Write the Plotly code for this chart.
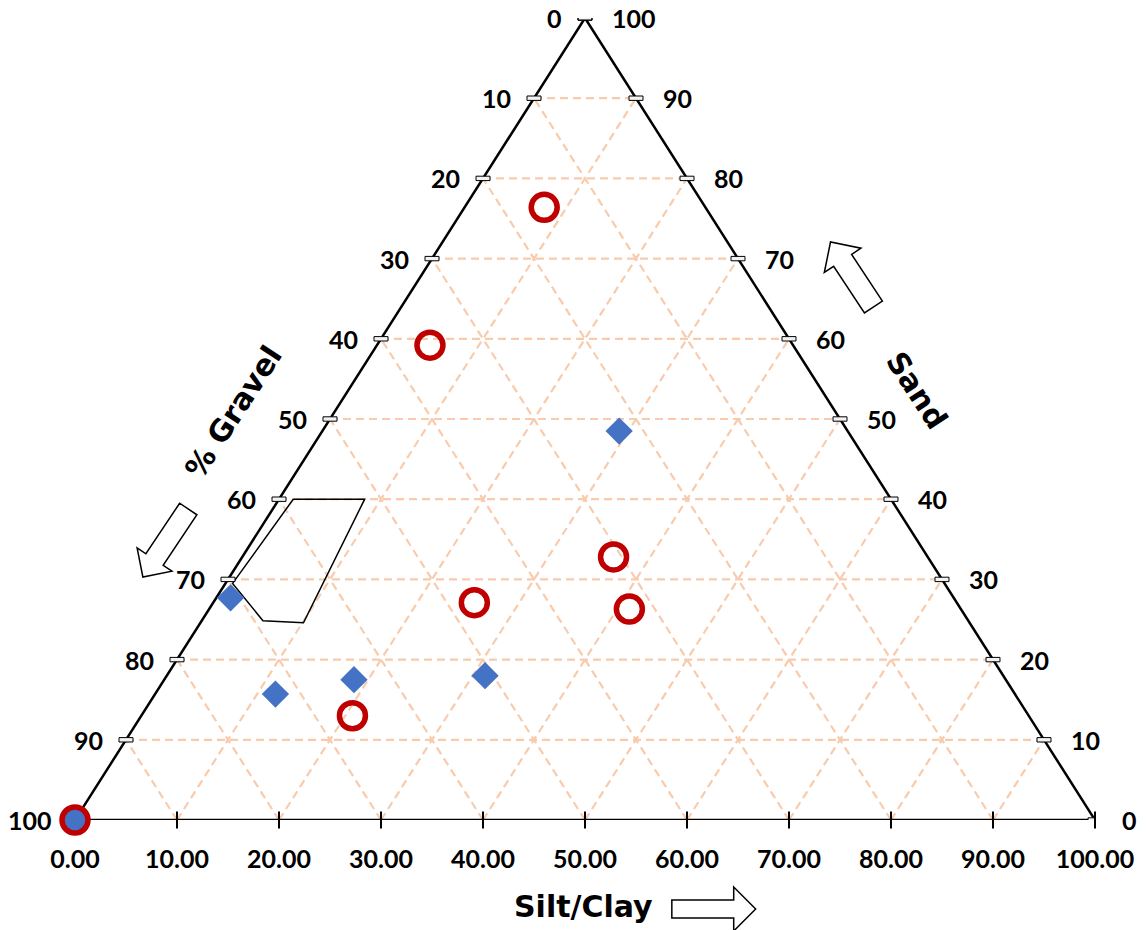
import math
import plotly.graph_objects as go

# ---------------- data (percentages) ----------------
red_sand = [76.4, 59.2, 32.8, 27.1, 26.3, 13.0]
red_siltclay = [7.8, 5.2, 36.4, 25.6, 41.2, 20.7]

blue_sand = [48.5, 27.7, 15.7, 17.5, 18.0]
blue_siltclay = [29.1, 1.4, 11.8, 18.6, 31.2]

both_sand = [0.0]          # sample shared by both series (100 % gravel)
both_siltclay = [0.0]

zone_sand = [40.0, 40.0, 24.6, 24.85, 29.5]
zone_siltclay = [1.4, 8.4, 10.1, 6.0, 0.7]

grid_levels = [10, 20, 30, 40, 50, 60, 70, 80, 90]
edge_levels = [0, 10, 20, 30, 40, 50, 60, 70, 80, 90, 100]
bottom_ticks = [0, 10, 20, 30, 40, 50, 60, 70, 80, 90, 100]

# ---------------- helpers ----------------
def tx(sand, silt):
    return silt + sand / 2.0

# pixel geometry of the plotting area (for decorations only)
PX0, PX1, PY0, PY1 = 75, 1097, 820, 18
W, H = 1146, 930
SX = (PX1 - PX0) / 100.0
SY = (PY0 - PY1) / 100.0

def p2paper(px, py):
    return ((px - PX0) / (PX1 - PX0), (PY0 - py) / (PY0 - PY1))

def block_arrow(tail, tip, shw, hhw, hl):
    dx, dy = tip[0] - tail[0], tip[1] - tail[1]
    L = math.hypot(dx, dy)
    ux, uy = dx / L, dy / L
    nx, ny = -uy, ux
    bx, by = tip[0] - ux * hl, tip[1] - uy * hl
    pts = [
        (tail[0] + nx * shw, tail[1] + ny * shw),
        (bx + nx * shw, by + ny * shw),
        (bx + nx * hhw, by + ny * hhw),
        tip,
        (bx - nx * hhw, by - ny * hhw),
        (bx - nx * shw, by - ny * shw),
        (tail[0] - nx * shw, tail[1] - ny * shw),
    ]
    d = [p2paper(*p) for p in pts]
    return "M " + " L ".join(f"{x:.5f},{y:.5f}" for x, y in d) + " Z"

GRID = "#F8CBAD"
fig = go.Figure()

# ---------------- grid lines ----------------
gx, gy = [], []
for k in grid_levels:
    gx += [tx(k, 0), tx(k, 100 - k), None]; gy += [k, k, None]
    gx += [tx(0, k), tx(100 - k, k), None]; gy += [0, 100 - k, None]
    gx += [tx(0, 100 - k), tx(100 - k, 0), None]; gy += [0, 100 - k, None]
fig.add_trace(go.Scatter(x=gx, y=gy, mode="lines",
                         line=dict(color=GRID, width=2.2, dash="8px,5px"),
                         hoverinfo="skip", showlegend=False))

# ---------------- triangle ----------------
fig.add_trace(go.Scatter(x=[tx(0, 0), tx(0, 100), tx(100, 0), tx(0, 0)],
                         y=[0, 0, 100, 0], mode="lines",
                         line=dict(color="black", width=2.5),
                         hoverinfo="skip", showlegend=False, cliponaxis=False))

# ---------------- zone polygon ----------------
zx = [tx(s, c) for s, c in zip(zone_sand, zone_siltclay)]
zy = list(zone_sand)
fig.add_trace(go.Scatter(x=zx + [zx[0]], y=zy + [zy[0]], mode="lines",
                         line=dict(color="black", width=1.5),
                         hoverinfo="skip", showlegend=False))

# ---------------- edge tick rectangles ----------------
hw, hh = 7 / SX, 2.2 / SY
rx, ry = [], []
for g in edge_levels:
    cx, cy = tx(100 - g, 0), 100 - g
    rx += [cx - hw, cx + hw, cx + hw, cx - hw, cx - hw, None]
    ry += [cy - hh, cy - hh, cy + hh, cy + hh, cy - hh, None]
for s in edge_levels:
    cx, cy = tx(s, 100 - s), s
    rx += [cx - hw, cx + hw, cx + hw, cx - hw, cx - hw, None]
    ry += [cy - hh, cy - hh, cy + hh, cy + hh, cy - hh, None]
fig.add_trace(go.Scatter(x=rx, y=ry, mode="lines", fill="toself",
                         fillcolor="#F2F2F2", line=dict(color="black", width=1),
                         hoverinfo="skip", showlegend=False, cliponaxis=False))

# bottom tick marks
fig.add_trace(go.Scatter(x=bottom_ticks, y=[0] * len(bottom_ticks), mode="markers",
                         marker=dict(symbol="line-ns", size=12,
                                     line=dict(color="black", width=2)),
                         hoverinfo="skip", showlegend=False, cliponaxis=False))

# ---------------- samples ----------------
fig.add_trace(go.Scatter(x=[tx(s, c) for s, c in zip(blue_sand, blue_siltclay)],
                         y=blue_sand, mode="markers", name="Blue",
                         marker=dict(symbol="diamond", size=21, color="#4472C4",
                                     line=dict(width=0)),
                         showlegend=False, cliponaxis=False))
fig.add_trace(go.Scatter(x=[tx(s, c) for s, c in zip(red_sand, red_siltclay)],
                         y=red_sand, mode="markers", name="Red",
                         marker=dict(symbol="circle-open", size=26, color="#C00000",
                                     line=dict(width=5.5, color="#C00000")),
                         showlegend=False, cliponaxis=False))
fig.add_trace(go.Scatter(x=[tx(s, c) for s, c in zip(both_sand, both_siltclay)],
                         y=both_sand, mode="markers", name="Both",
                         marker=dict(symbol="circle", size=26, color="#4472C4",
                                     line=dict(width=5.5, color="#C00000")),
                         showlegend=False, cliponaxis=False))

# ---------------- edge labels ----------------
LBL = dict(family="Lato", size=25, color="black", weight="bold")
ann = []
for g in edge_levels:
    ann.append(dict(x=tx(100 - g, 0), y=100 - g, text=str(g), showarrow=False,
                    xanchor="right", yanchor="middle", xshift=-21, font=LBL))
for s in edge_levels:
    ann.append(dict(x=tx(s, 100 - s), y=s, text=str(s), showarrow=False,
                    xanchor="left", yanchor="middle", xshift=25, font=LBL))

TT = dict(family="DejaVu Sans", size=30, color="black", weight="bold")
for text, (cx, cy), ang in [("Silt/Clay", (584, 906), 0),
                            ("% Gravel", (233, 412), -57),
                            ("Sand", (919, 390), 57)]:
    x, y = p2paper(cx, cy)
    ann.append(dict(x=x, y=y, xref="paper", yref="paper", text=text,
                    showarrow=False, font=TT, textangle=ang,
                    xanchor="center", yanchor="middle"))

AR = dict(type="path", xref="paper", yref="paper", fillcolor="white",
          line=dict(color="black", width=1.5), layer="above")
shapes = [
    dict(AR, path=block_arrow((673, 909), (757, 909), 9, 22, 22)),
    dict(AR, path=block_arrow((188.5, 509), (143, 577), 10.4, 21, 21)),
    dict(AR, path=block_arrow((875, 307), (832, 242), 10.8, 22, 22)),
]

fig.update_layout(
    width=W, height=H,
    margin=dict(l=PX0, r=W - PX1, t=PY1, b=H - PY0),
    paper_bgcolor="white", plot_bgcolor="white",
    annotations=ann, shapes=shapes, showlegend=False,
    xaxis=dict(range=[0, 100], tickvals=bottom_ticks, tickformat=".2f",
               ticks="", showgrid=False, zeroline=False, showline=False,
               ticklabelstandoff=22,
               tickfont=dict(family="Lato", size=25, color="black", weight="bold")),
    yaxis=dict(range=[0, 100], visible=False, showgrid=False, zeroline=False),
)

fig.write_html("out.html", config={"displayModeBar": False},
               post_script="document.body.style.margin='0px';")
